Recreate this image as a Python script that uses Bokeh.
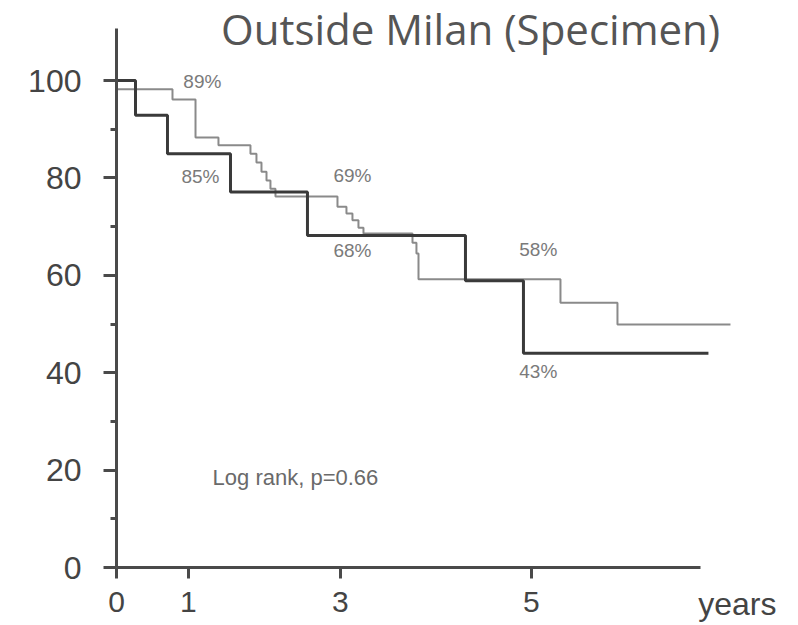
from bokeh.plotting import figure
from bokeh.models import Range1d, FixedTicker, Label
from bokeh.core.properties import value
from bokeh.embed import file_html
from bokeh.resources import INLINE

# ---- data (time in axis units, survival in %) ----
dark_time = [0, 0.25, 0.671, 1.5, 2.513, 4.592, 5.355, 7.789]
dark_surv = [100, 92.9, 85.0, 77.1, 68.2, 58.9, 44.0, 44.0]

gray_time = [0, 0.737, 1.04, 1.342, 1.763, 1.842, 1.908, 1.974, 2.026, 2.092,
             2.908, 3.026, 3.105, 3.184, 3.25, 3.895, 3.947, 3.974, 5.842, 6.592, 8.079]
gray_surv = [98.2, 96.1, 88.3, 86.7, 85.0, 83.2, 81.3, 79.5, 77.8, 76.2,
             74.1, 72.7, 71.3, 69.8, 68.6, 66.7, 64.5, 59.2, 54.4, 49.9, 49.9]

x_tick_pos = [0, 0.947, 2.947, 5.46]
x_tick_labels = ["0", "1", "3", "5"]
y_ticks = [0, 20, 40, 60, 80, 100]
y_minor_ticks = [10, 30, 50, 70, 90]

ann_x = [1.13, 1.105, 3.105, 3.105, 5.55, 5.55]
ann_y = [99.8, 80.3, 80.5, 65.1, 65.3, 40.3]
ann_text = ["89%", "85%", "69%", "68%", "58%", "43%"]

title_text = "Outside Milan (Specimen)"
stat_text = "Log rank, p=0.66"
x_unit_text = "years"

AX = "#4a4a4a"
FONT = "Liberation Sans"

Y_TOP = 110.7
p = figure(width=798, height=625, output_backend="svg", toolbar_location=None,
           x_range=Range1d(-1.526, 8.974), y_range=Range1d(-11.91, 116.45),
           min_border_left=0, min_border_right=0, min_border_top=0,
           min_border_bottom=0)
p.outline_line_color = None
p.grid.grid_line_color = None
p.background_fill_color = "white"
p.border_fill_color = "white"

# y axis (drawn at x = 0 inside the frame)
ya = p.yaxis[0]
ya.fixed_location = 0
ya.ticker = FixedTicker(ticks=y_ticks, minor_ticks=y_minor_ticks)
ya.bounds = (0, Y_TOP)
ya.axis_line_color = AX
ya.axis_line_width = 3
ya.major_tick_line_color = AX
ya.major_tick_line_width = 3
ya.minor_tick_line_color = AX
ya.minor_tick_line_width = 3
ya.major_tick_in = 0
ya.major_tick_out = 13
ya.minor_tick_in = 0
ya.minor_tick_out = 6
ya.major_label_standoff = 22
ya.major_label_text_font = FONT
ya.major_label_text_font_size = "32px"
ya.major_label_text_color = "#444444"

# x axis (drawn at y = 0 inside the frame)
xa = p.xaxis[0]
xa.fixed_location = 0
xa.ticker = FixedTicker(ticks=x_tick_pos, minor_ticks=[])
xa.major_label_overrides = {t: l for t, l in zip(x_tick_pos, x_tick_labels)}
xa.bounds = (0, 7.68)
xa.axis_line_color = AX
xa.axis_line_width = 3
xa.major_tick_line_color = AX
xa.major_tick_line_width = 3
xa.major_tick_in = 0
xa.major_tick_out = 11
xa.minor_tick_line_color = None
xa.major_label_standoff = 13
xa.major_label_text_font = FONT
xa.major_label_text_font_size = "30px"
xa.major_label_text_color = "#444444"

# curves
p.step(gray_time, gray_surv, mode="after", line_color="#8a8a8a", line_width=2)
p.step(dark_time, dark_surv, mode="after", line_color="#3a3a3a", line_width=3)

# annotations
p.text(x=ann_x, y=ann_y, text=ann_text, text_align="center", text_baseline="middle",
       text_font=value(FONT), text_font_size="19px", text_color="#7a7a7a")

p.add_layout(Label(x=2.355, y=18.5, text=stat_text, text_align="center",
                   text_baseline="middle", text_font=FONT, text_font_size="22px",
                   text_color="#6a6a6a"))
p.add_layout(Label(x=4.66, y=110.7, text=title_text, text_align="center",
                   text_baseline="middle", text_font="Open Sans",
                   text_font_size="42px", text_color="#555555"))
p.add_layout(Label(x=8.17, y=-7.4, text=x_unit_text, text_align="center",
                   text_baseline="middle", text_font=FONT,
                   text_font_size="32px", text_color="#444444"))

open("out.html", "w").write(file_html(p, INLINE))
